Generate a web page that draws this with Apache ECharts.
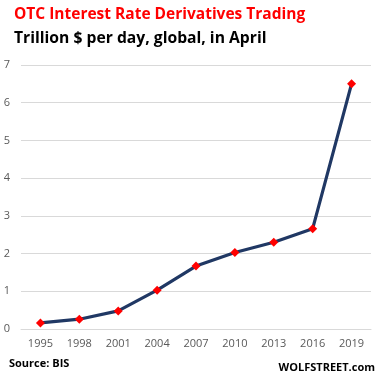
<!DOCTYPE html>
<html><head><meta charset="utf-8">
<script src="https://cdn.jsdelivr.net/npm/echarts@6/dist/echarts.min.js"></script>
<style>html,body{margin:0;padding:0;background:#fff}#c{width:381px;height:385px}</style>
</head><body><div id="c"></div>
<script>
const years = ['1995','1998','2001','2004','2007','2010','2013','2016','2019'];
const values = [0.16, 0.26, 0.48, 1.03, 1.67, 2.03, 2.30, 2.66, 6.50];
const yTicks = [0, 1, 2, 3, 4, 5, 6, 7];
const titleText = 'OTC Interest Rate Derivatives Trading';
const subtitleText = 'Trillion $ per day, global, in April';
const sourceText = 'Source: BIS';
const brandText = 'WOLFSTREET.com';

const chart = echarts.init(document.getElementById('c'), null, {renderer: 'canvas'});
const font = 'Open Sans, Noto Sans, sans-serif';
chart.setOption({
  animation: false,
  backgroundColor: '#fff',
  graphic: [
    {type: 'text', left: 14, top: 7, style: {text: titleText, fill: '#ff0000', font: 'bold 15.5px ' + font}},
    {type: 'text', left: 14, top: 31, style: {text: subtitleText, fill: '#000', font: 'bold 15.7px ' + font}},
    {type: 'text', left: 9, top: 358, style: {text: sourceText, fill: '#000', font: 'bold 11px ' + font}},
    {type: 'text', right: 6, top: 362, style: {text: brandText, fill: '#000', font: 'bold 11px ' + font}}
  ],
  grid: {left: 21, right: 10, top: 65, bottom: 56},
  xAxis: {
    type: 'category', data: years, boundaryGap: true,
    axisLine: {lineStyle: {color: '#d9d9d9'}}, axisTick: {show: false},
    axisLabel: {color: '#595959', fontSize: 11, fontFamily: font, margin: 9}
  },
  yAxis: {
    type: 'value', min: yTicks[0], max: yTicks[yTicks.length - 1], interval: 1,
    axisLine: {show: false}, axisTick: {show: false},
    splitLine: {lineStyle: {color: '#d9d9d9'}},
    axisLabel: {color: '#595959', fontSize: 11, fontFamily: font, margin: 11}
  },
  series: [{
    type: 'line', data: values,
    lineStyle: {color: '#203864', width: 3.2},
    itemStyle: {color: '#ff0000'},
    symbol: 'diamond', symbolSize: 9, z: 3
  }]
});
</script></body></html>
